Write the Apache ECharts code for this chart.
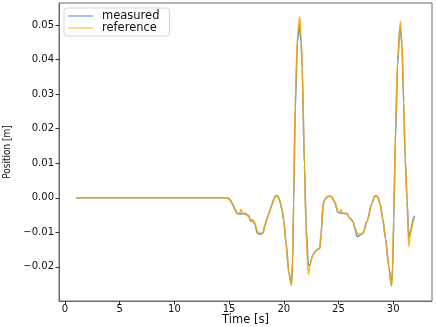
<!DOCTYPE html>
<html>
<head>
<meta charset="utf-8">
<script src="https://cdn.jsdelivr.net/npm/echarts@6/dist/echarts.min.js"></script>
<style>
    html,body{margin:0;padding:0;background:#fff;}
    #main{width:436px;height:327px;}
</style>
</head>
<body>
<div id="main"></div>
<script>
// reference trajectory [s], [m]
var timeRef=[1.0,14.6,14.9,15.1,15.3,15.5,15.75,15.95,16.1,16.2,16.5,16.8,16.96,17.1,17.3,17.45,17.57,17.87,18.1,18.27,18.45,18.63,18.8,18.94,19.1,19.24,19.35,19.49,19.6,19.7,19.85,20.0,20.2,20.46,20.7,20.8,20.9,21.05,21.25,21.46,21.6,21.68,21.89,22.05,22.23,22.37,22.5,22.65,22.99,23.3,23.41,23.6,23.8,24.0,24.2,24.4,24.57,24.7,24.93,25.1,25.24,25.35,25.8,25.94,26.1,26.34,26.5,26.7,27.0,27.25,27.6,28.07,28.3,28.47,28.6,28.8,29.05,29.3,29.6,29.84,29.95,30.05,30.2,30.4,30.66,30.8,30.96,31.1,31.27,31.42,31.55,31.66,31.87,31.96];
var posRef=[0,0,-0.0002,-0.0008,-0.0016,-0.003,-0.0045,-0.0045,-0.0034,-0.0045,-0.0045,-0.0055,-0.0065,-0.0062,-0.0069,-0.008,-0.0098,-0.0103,-0.0101,-0.0079,-0.006,-0.0045,-0.003,-0.0016,-0.0003,0.0006,0.0007,0.0003,-0.0005,-0.0016,-0.0035,-0.0065,-0.013,-0.0218,-0.0255,-0.018,-0.0007,0.0282,0.047,0.0525,0.046,0.0379,0.009,-0.01,-0.0223,-0.02,-0.018,-0.0166,-0.0151,-0.0146,-0.0103,-0.0016,-0.0002,0.0004,0.0005,0.0002,-0.0007,-0.0015,-0.004,-0.0042,-0.0034,-0.0045,-0.0045,-0.0057,-0.006,-0.0069,-0.0085,-0.0103,-0.0106,-0.0103,-0.0069,-0.0016,0.0004,0.0006,0.0002,-0.0016,-0.006,-0.0117,-0.02,-0.0257,-0.02,-0.005,0.0187,0.04,0.0511,0.045,0.0282,0.012,-0.0007,-0.0142,-0.011,-0.0093,-0.0064,-0.006];
// measured position
var timeMeas=[1.0,14.6,14.9,15.1,15.3,15.5,15.75,16.0,16.2,16.5,16.8,16.96,17.15,17.35,17.57,17.87,18.1,18.27,18.45,18.63,18.8,18.94,19.1,19.24,19.35,19.49,19.6,19.7,19.85,20.0,20.2,20.46,20.7,20.8,20.9,21.05,21.25,21.42,21.58,21.68,21.89,22.05,22.25,22.4,22.5,22.65,22.99,23.3,23.41,23.6,23.8,24.0,24.2,24.4,24.57,24.7,24.93,25.1,25.3,25.8,25.94,26.1,26.34,26.5,26.7,27.0,27.25,27.6,28.07,28.3,28.47,28.6,28.8,29.05,29.3,29.6,29.84,29.95,30.05,30.2,30.4,30.62,30.8,30.96,31.1,31.27,31.42,31.55,31.66,31.87,31.96];
var posMeas=[0,0,-0.0001,-0.0006,-0.0018,-0.0033,-0.0046,-0.0047,-0.0046,-0.0047,-0.0052,-0.0068,-0.0066,-0.0075,-0.0103,-0.0106,-0.0102,-0.0082,-0.0062,-0.0047,-0.0032,-0.0018,-0.0004,0.0005,0.0006,0.0002,-0.0006,-0.0017,-0.0036,-0.0066,-0.013,-0.0215,-0.0252,-0.019,-0.002,0.026,0.045,0.0503,0.045,0.0375,0.0095,-0.009,-0.0195,-0.0195,-0.018,-0.0166,-0.0152,-0.0146,-0.0105,-0.0018,-0.0003,0.0003,0.0005,0.0002,-0.0008,-0.0016,-0.0041,-0.0044,-0.0045,-0.0046,-0.0056,-0.0061,-0.007,-0.0088,-0.0113,-0.0108,-0.0102,-0.0068,-0.0015,0.0004,0.0006,0.0002,-0.0017,-0.0062,-0.0118,-0.0198,-0.0254,-0.021,-0.007,0.016,0.038,0.0497,0.0445,0.0275,0.011,-0.0005,-0.0115,-0.01,-0.0085,-0.0058,-0.0052];
var xTicks=[0,5,10,15,20,25,30];
var yTicks=[-0.02,-0.01,0,0.01,0.02,0.03,0.04,0.05];

(function(dom){
    var chart={
        font:'"DejaVu Sans", sans-serif',
        pairs:function(t,v){
            var out=[];
            for(var i=0;i<t.length;i++){
                out.push([t[i],v[i]]);
            }
            return out;
        },
        init:function(){
            var myChart=echarts.init(dom.getElementById('main'),null,{renderer:'canvas'});
            myChart.setOption(this.option());
        },
        option:function(){
            var f=this.font;
            return {
                animation:false,
                backgroundColor:'#fff',
                grid:{left:59,right:4,top:3,bottom:26,outerBoundsMode:'none',containLabel:false,
                    show:true,borderColor:'#6a6a6a',borderWidth:1,backgroundColor:'transparent'},
                legend:{
                    left:64,top:8,orient:'vertical',
                    itemWidth:25,itemHeight:2,itemGap:0,
                    padding:[2,10,2,4],
                    borderColor:'#d4d4d4',borderWidth:1,borderRadius:3,backgroundColor:'#fff',
                    textStyle:{fontFamily:f,fontSize:11.5,color:'#111',lineHeight:12,padding:[0,0,0,4]},
                    data:[
                        {name:'measured',icon:'rect',itemStyle:{color:'#a8c4de'}},
                        {name:'reference',icon:'rect',itemStyle:{color:'#ffd98c'}}
                    ]
                },
                xAxis:{
                    type:'value',min:-0.55,max:33.55,
                    name:'Time [s]',nameLocation:'middle',nameGap:13,nameMoveOverlap:false,
                    nameTextStyle:{fontFamily:f,fontSize:11.5,color:'#111'},
                    axisLine:{show:true,onZero:false,lineStyle:{color:'#6a6a6a'}},
                    axisTick:{show:true,length:3.5,customValues:xTicks,lineStyle:{color:'#333'}},
                    axisLabel:{customValues:xTicks,margin:3,fontFamily:f,fontSize:10,color:'#111'},
                    splitLine:{show:false}
                },
                yAxis:{
                    type:'value',min:-0.0299,max:0.0564,
                    name:'Position [m]',nameLocation:'middle',nameGap:47,nameMoveOverlap:false,
                    nameTextStyle:{fontFamily:'"DejaVu Sans Condensed","Liberation Sans Narrow",sans-serif',fontSize:10,color:'#111'},
                    axisLine:{show:true,onZero:false,lineStyle:{color:'#6a6a6a'}},
                    axisTick:{show:true,length:3.5,customValues:yTicks,lineStyle:{color:'#333'}},
                    axisLabel:{
                        customValues:yTicks,margin:5,fontFamily:f,fontSize:10,color:'#111',
                        formatter:function(v){return v.toFixed(2).replace('-','\u2212');}
                    },
                    splitLine:{show:false}
                },
                series:[
                    {
                        name:'measured',type:'line',symbol:'none',
                        data:this.pairs(timeMeas,posMeas),
                        smooth:0.25,smoothMonotone:'x',
                        color:'#1f77b4',
                        lineStyle:{width:1.5,color:'#1f77b4',opacity:0.75}
                    },
                    {
                        name:'reference',type:'line',symbol:'none',
                        data:this.pairs(timeRef,posRef),
                        smooth:0.25,smoothMonotone:'x',
                        color:'#ffa500',
                        lineStyle:{width:1.5,color:'#ffa500',opacity:0.85}
                    }
                ]
            };
        }
    };
    chart.init();
})(document);
</script>
</body>
</html>
